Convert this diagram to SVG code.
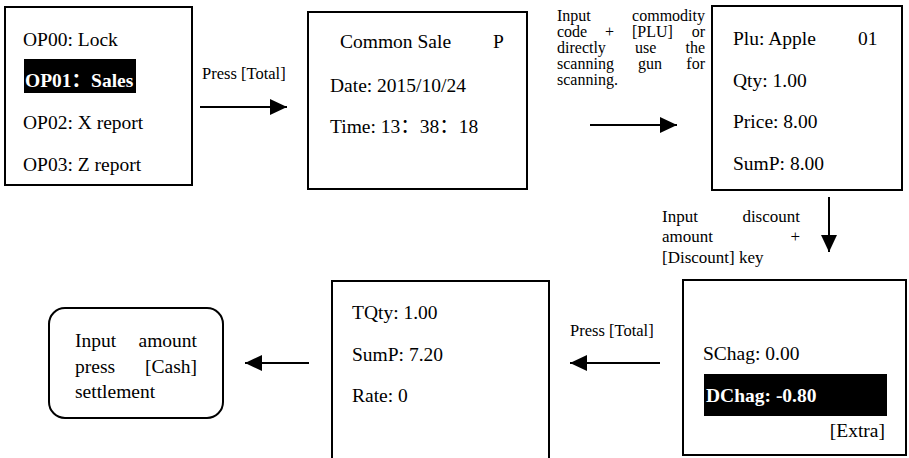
<svg xmlns="http://www.w3.org/2000/svg" width="909" height="458" viewBox="0 0 909 458">
<style>
.box{fill:#fff;stroke:#000;stroke-width:2}
text{font-family:"Liberation Serif","Times New Roman",Times,"DejaVu Serif","Noto Sans CJK SC",serif;fill:#000}
.t{font-size:19.5px}
.b{font-weight:bold;fill:#fff}
.l{font-size:16.5px}
.s{font-size:16px}
.d{font-size:17px}
.hl{fill:#000}
.c{stroke:#000;stroke-width:2;fill:none;marker-end:url(#ah)}
</style>
<defs>
<marker id="ah" markerUnits="userSpaceOnUse" markerWidth="18" markerHeight="16" refX="17" refY="8" orient="auto">
<path d="M0,0 L17,8 L0,16 Z" fill="#000"/>
</marker>
</defs>
<g id="n1">
<rect class="box" x="5" y="7" width="187" height="178"/>
<text class="t" x="23" y="46">OP00: Lock</text>
<rect class="hl" x="24" y="59" width="112" height="34"/>
<text class="t b" x="25" y="87">OP01：Sales</text>
<text class="t" x="23" y="129">OP02: X report</text>
<text class="t" x="23" y="171">OP03: Z report</text>
</g>
<g id="n2">
<rect class="box" x="308" y="12" width="219" height="177"/>
<text class="t" x="340" y="48">Common Sale</text>
<text class="t" x="493" y="48">P</text>
<text class="t" x="330" y="92">Date: 2015/10/24</text>
<text class="t" x="330" y="133">Time: 13：38：18</text>
</g>
<g id="n3">
<rect class="box" x="712" y="6" width="190" height="184"/>
<text class="t" x="733" y="45">Plu: Apple</text>
<text class="t" x="858" y="45">01</text>
<text class="t" x="733" y="87">Qty: 1.00</text>
<text class="t" x="733" y="128">Price: 8.00</text>
<text class="t" x="733" y="170">SumP: 8.00</text>
</g>
<g id="n4">
<rect class="box" x="683" y="280" width="223" height="175"/>
<text class="t" x="703" y="360">SChag: 0.00</text>
<rect class="hl" x="704" y="374" width="183" height="42"/>
<text class="t b" x="706" y="402">DChag: -0.80</text>
<text class="t" x="885" y="437" text-anchor="end">[Extra]</text>
</g>
<g id="n5">
<rect class="box" x="332" y="281" width="217" height="190"/>
<text class="t" x="352" y="319">TQty: 1.00</text>
<text class="t" x="352" y="361">SumP: 7.20</text>
<text class="t" x="352" y="402">Rate: 0</text>
</g>
<g id="n6">
<rect class="box" x="49" y="308" width="174" height="110" rx="16" ry="16"/>
<text class="t" x="75" y="347">Input</text>
<text class="t" x="197" y="347" text-anchor="end">amount</text>
<text class="t" x="75" y="373">press</text>
<text class="t" x="197" y="373" text-anchor="end">[Cash]</text>
<text class="t" x="75" y="398">settlement</text>
</g>
<g id="connectors">
<line class="c" x1="200" y1="107" x2="287" y2="107"/>
<text class="l" x="202" y="79">Press [Total]</text>
<line class="c" x1="590" y1="125" x2="677" y2="125"/>
<g>
<text class="s" x="557" y="21">Input</text>
<text class="s" x="705" y="21" text-anchor="end">commodity</text>
<text class="s" x="557" y="37">code</text>
<text class="s" x="605" y="37">+</text>
<text class="s" x="632" y="37">[PLU]</text>
<text class="s" x="705" y="37" text-anchor="end">or</text>
<text class="s" x="557" y="53">directly</text>
<text class="s" x="635" y="53">use</text>
<text class="s" x="705" y="53" text-anchor="end">the</text>
<text class="s" x="557" y="69">scanning</text>
<text class="s" x="638" y="69">gun</text>
<text class="s" x="705" y="69" text-anchor="end">for</text>
<text class="s" x="557" y="85">scanning.</text>
</g>
<line class="c" x1="829" y1="197" x2="829" y2="252"/>
<g>
<text class="d" x="662" y="222">Input</text>
<text class="d" x="800" y="222" text-anchor="end">discount</text>
<text class="d" x="662" y="242">amount</text>
<text class="d" x="800" y="242" text-anchor="end">+</text>
<text class="d" x="662" y="263">[Discount] key</text>
</g>
<line class="c" x1="660" y1="363" x2="570" y2="363"/>
<text class="l" x="570" y="336">Press [Total]</text>
<line class="c" x1="309" y1="363" x2="245" y2="363"/>
</g>
</svg>
